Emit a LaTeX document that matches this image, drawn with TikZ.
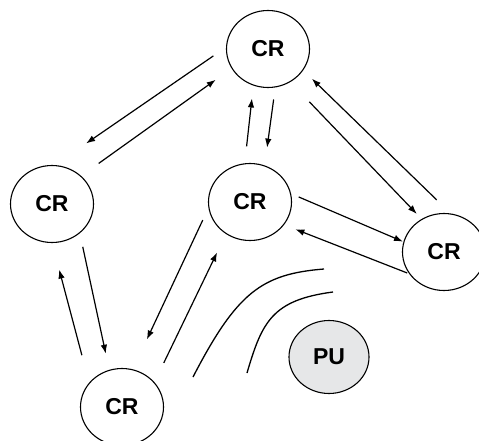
\documentclass[tikz,border=0pt]{standalone}
\usepackage{fontspec}
\setmainfont{Liberation Sans}
\usepackage{tikz}
\usetikzlibrary{shapes.geometric}
\usetikzlibrary{arrows.meta}
\definecolor{pugray}{HTML}{E6E7E8}

\begin{document}
\begin{tikzpicture}[x=1pt, y=-1pt,
        radio/.style={ellipse, draw, line width=1.1pt, minimum width=83pt, minimum height=77pt,
            inner sep=0pt, outer sep=0pt, font=\fontsize{23}{25}\selectfont\bfseries},
        link/.style={line width=1.2pt, -{Latex[length=9pt,width=6.5pt]}},
        wave/.style={line width=1.3pt}]
        \useasboundingbox (0,0) rectangle (479,441);
        % secondary users
        \node[radio] (top) at (268,49) {CR};
        \node[radio] (left) at (52,204) {CR};
        \node[radio] (mid) at (250,202) {CR};
        \node[radio] (right) at (444,252) {CR};
        \node[radio] (bot) at (122,407) {CR};
        % primary user
        \node[radio, fill=pugray, minimum width=80pt, minimum height=73pt] (pu) at (329,357) {PU};
        % links between the CR nodes
        \foreach \a/\p/\b/\q/\s/\t in {top/177/left/87/16/39, left/44/top/208/22/20,
            mid/98/top/248.5/17.5/13.5, top/281/mid/68.5/12.7/18.5,
            top/304/right/124/28/7.5, right/79/top/329/20.5/12.7,
            mid/12/right/166/9/1, right/213/mid/326/3/12.7,
            left/314/bot/109/14.5/17, bot/144/left/270/29/28,
            mid/187/bot/74/14.4/33.5, bot/37/mid/233/22/21}
            \draw[link, shorten <=\s pt, shorten >=\t pt] (\a.\p) -- (\b.\q);
        % interference boundary
        \draw[wave] (193,377) .. controls (237,292) and (262,274) .. (324,269);
        \draw[wave] (247,373) .. controls (262,322) and (272,300) .. (333,292);
    \end{tikzpicture}
\end{document}
